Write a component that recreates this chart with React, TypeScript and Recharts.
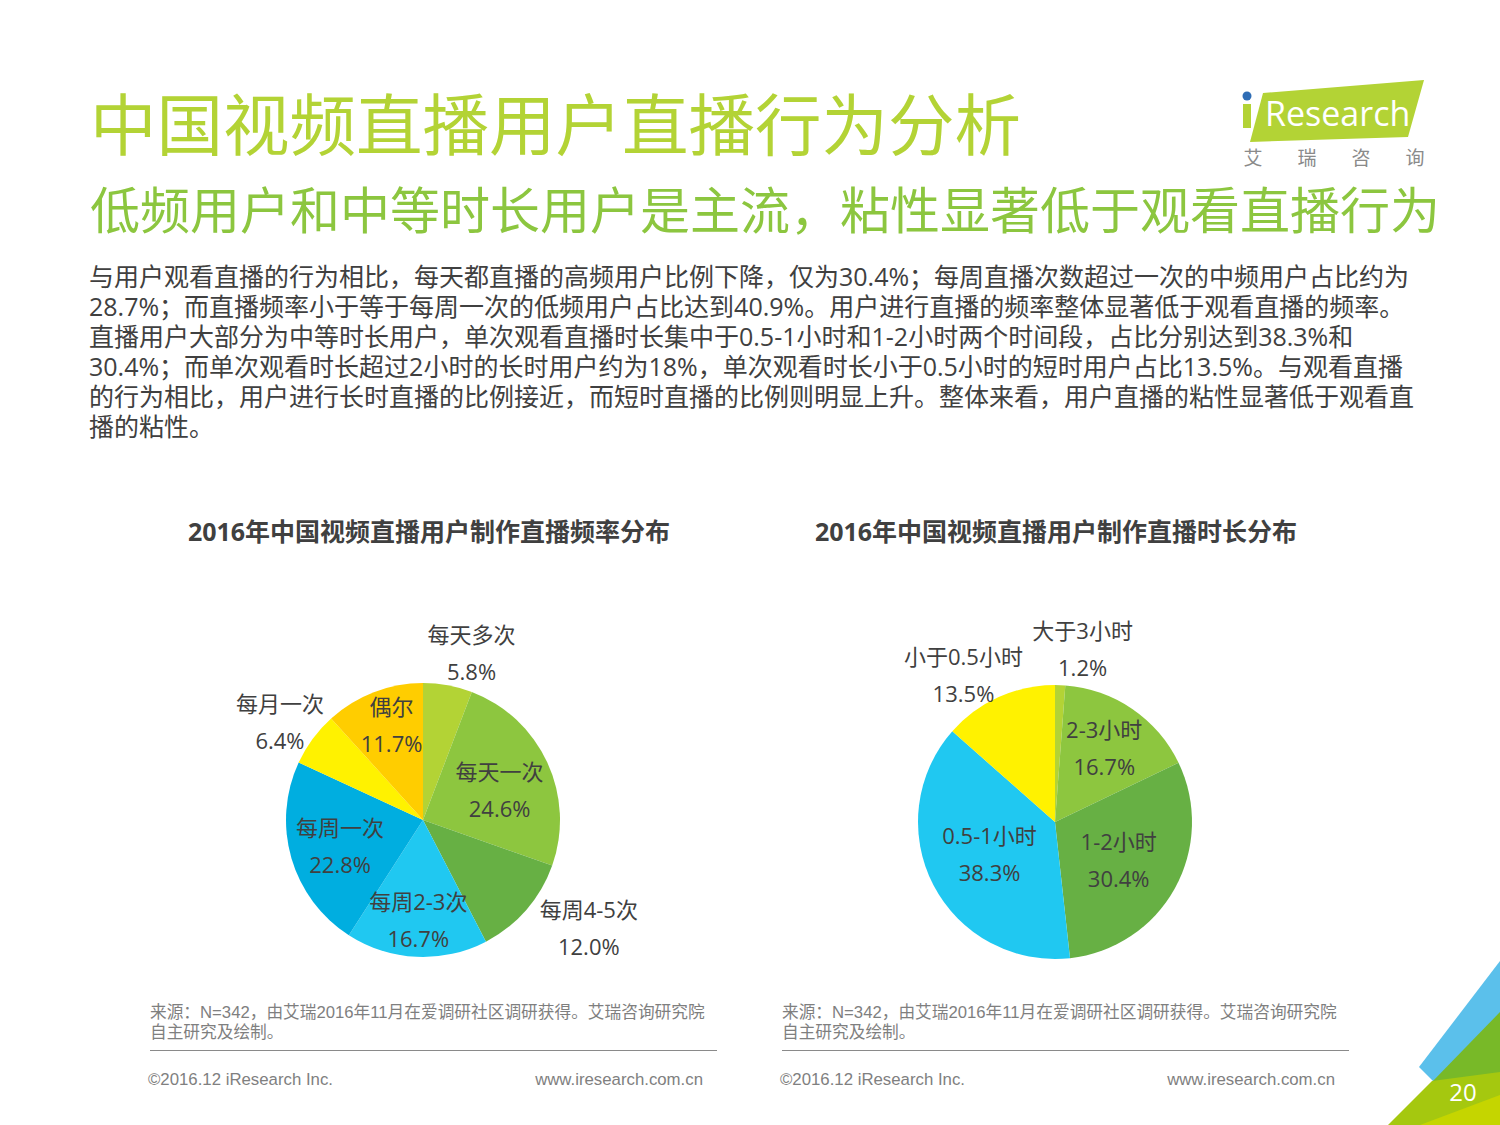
import React from 'react';
import { PieChart, Pie, Cell } from 'recharts';

// frequency chart data
const freqNames = ['每天多次', '每天一次', '每周4-5次', '每周2-3次', '每周一次', '每月一次', '偶尔'];
const freqValues = [5.8, 24.6, 12.0, 16.7, 22.8, 6.4, 11.7];

// duration chart data
const durNames = ['大于3小时', '2-3小时', '1-2小时', '0.5-1小时', '小于0.5小时'];
const durValues = [1.2, 16.7, 30.4, 38.3, 13.5];

const freqColors = ['#b3d335', '#8dc63f', '#67b044', '#20c8f1', '#00aee0', '#fff200', '#ffcd00'];
const durColors = ['#b3d335', '#8dc63f', '#67b044', '#20c8f1', '#fff200'];

// label layout: [radius factor, dx, dy]
const freqLabelLayout = [
  [1.27, 17, 4],
  [0.6, 2, 4],
  [1.44, 17, -22],
  [0.73, 0, 0],
  [0.63, 0, 1],
  [1.26, -4, 4],
  [0.74, 5, -1],
];
const durLabelLayout = [
  [1.28, 21, 2],
  [0.65, -1, -1],
  [0.54, -1, 2],
  [0.53, -1, -2],
  [1.27, -20, 11],
];

const paragraph = [
  '与用户观看直播的行为相比，每天都直播的高频用户比例下降，仅为30.4%；每周直播次数超过一次的中频用户占比约为',
  '28.7%；而直播频率小于等于每周一次的低频用户占比达到40.9%。用户进行直播的频率整体显著低于观看直播的频率。',
  '直播用户大部分为中等时长用户，单次观看直播时长集中于0.5-1小时和1-2小时两个时间段，占比分别达到38.3%和',
  '30.4%；而单次观看时长超过2小时的长时用户约为18%，单次观看时长小于0.5小时的短时用户占比13.5%。与观看直播',
  '的行为相比，用户进行长时直播的比例接近，而短时直播的比例则明显上升。整体来看，用户直播的粘性显著低于观看直',
  '播的粘性。',
];

const RAD = Math.PI / 180;
const font = "'Open Sans', 'Noto Sans CJK SC', sans-serif";

const makeLabel = (layout: number[][]) => (props: any) => {
  const { cx, cy, midAngle, outerRadius, index, name, value } = props;
  const [f, dx, dy] = layout[index];
  const r = outerRadius * f;
  const x = cx + r * Math.cos(-midAngle * RAD) + dx;
  const y = cy + r * Math.sin(-midAngle * RAD) + dy;
  return (
    <g>
      <text x={x} y={y - 18.5} textAnchor="middle" dominantBaseline="central" fill="#404040" fontSize={22} fontFamily={font}>
        {name}
      </text>
      <text x={x} y={y + 18.5} textAnchor="middle" dominantBaseline="central" fill="#404040" fontSize={22} fontFamily={font}>
        {value.toFixed(1)}%
      </text>
    </g>
  );
};

function Donut({ names, values, colors, layout }: { names: string[]; values: number[]; colors: string[]; layout: number[][] }) {
  const data = names.map((n, i) => ({ name: n, value: values[i] }));
  return (
    <PieChart width={600} height={460} margin={{ top: 0, right: 0, bottom: 0, left: 0 }}>
      <Pie
        data={data}
        dataKey="value"
        nameKey="name"
        cx={300}
        cy={230}
        outerRadius={137}
        startAngle={90}
        endAngle={-270}
        stroke="none"
        label={makeLabel(layout)}
        labelLine={false}
        isAnimationActive={false}
      >
        {data.map((d, i) => (
          <Cell key={d.name} fill={colors[i]} />
        ))}
      </Pie>
    </PieChart>
  );
}

const abs = (s: React.CSSProperties): React.CSSProperties => ({ position: 'absolute', whiteSpace: 'nowrap', ...s });

function Footer({ left }: { left: number }) {
  return (
    <>
      <div style={abs({ left, top: 1003, fontSize: 16.7, lineHeight: '20px', color: '#7f7f7f', fontFamily: "'Liberation Sans', 'Noto Sans CJK SC', sans-serif" })}>
        来源：N=342，由艾瑞2016年11月在爱调研社区调研获得。艾瑞咨询研究院
        <br />
        自主研究及绘制。
      </div>
      <div style={abs({ left, top: 1050, width: 567, height: 1, background: '#8a8a8a' })} />
      <div style={abs({ left: left - 2, top: 1070, fontSize: 16.8, lineHeight: '20px', color: '#808080', fontFamily: "'Liberation Sans', sans-serif" })}>
        ©2016.12 iResearch Inc.
      </div>
      <div style={abs({ left: left + 353, top: 1070, width: 200, textAlign: 'right', fontSize: 16.8, lineHeight: '20px', color: '#808080', fontFamily: "'Liberation Sans', sans-serif" })}>
        www.iresearch.com.cn
      </div>
    </>
  );
}

export default function App() {
  return (
    <div style={{ position: 'absolute', left: 0, top: 0, width: 1500, height: 1125, background: '#fff', overflow: 'hidden', fontFamily: font }}>
      <div style={abs({ left: 90, top: 88, fontSize: 66.5, lineHeight: '66px', color: '#b3d335', fontFamily: "'Noto Sans CJK SC', sans-serif", fontWeight: 400 })}>
        中国视频直播用户直播行为分析
      </div>
      <div style={abs({ left: 90, top: 182, fontSize: 50, lineHeight: '50px', color: '#8cc63f', fontFamily: "'Noto Sans CJK SC', sans-serif", fontWeight: 400 })}>
        低频用户和中等时长用户是主流，粘性显著低于观看直播行为
      </div>
      <div style={abs({ left: 89, top: 261, fontSize: 25, lineHeight: '30px', color: '#404040' })}>
        {paragraph.map((l) => (
          <div key={l}>{l}</div>
        ))}
      </div>

      {/* logo */}
      <svg style={{ position: 'absolute', left: 1230, top: 70 }} width={270} height={110}>
        <polygon points="33,23 194,10 178,67 20,72" fill="#b3d335" />
        <rect x={13} y={34} width={8} height={24} fill="#b3d335" />
        <circle cx={17} cy={26} r={4.5} fill="#2f6db5" />
        <text x={35} y={56} fill="#fff" fontSize={34} fontFamily="'Open Sans', sans-serif">Research</text>
        {['艾', '瑞', '咨', '询'].map((c, i) => (
          <text key={c} x={23 + i * 54} y={95} textAnchor="middle" fill="#8a8a8a" fontSize={19} fontFamily="'Noto Sans CJK SC', sans-serif">
            {c}
          </text>
        ))}
      </svg>

      <div style={abs({ left: 129, top: 514, width: 600, textAlign: 'center', fontSize: 25, lineHeight: '34px', fontWeight: 700, color: '#404040' })}>
        2016年中国视频直播用户制作直播频率分布
      </div>
      <div style={abs({ left: 756, top: 514, width: 600, textAlign: 'center', fontSize: 25, lineHeight: '34px', fontWeight: 700, color: '#404040' })}>
        2016年中国视频直播用户制作直播时长分布
      </div>

      <div style={{ position: 'absolute', left: 123, top: 590 }}>
        <Donut names={freqNames} values={freqValues} colors={freqColors} layout={freqLabelLayout} />
      </div>
      <div style={{ position: 'absolute', left: 755, top: 592 }}>
        <Donut names={durNames} values={durValues} colors={durColors} layout={durLabelLayout} />
      </div>

      <Footer left={150} />
      <Footer left={782} />

      {/* corner decoration */}
      <svg style={{ position: 'absolute', left: 1380, top: 950 }} width={120} height={175}>
        <polygon points="120,11 39,117 65,143 120,80" fill="#5bc0eb" />
        <polygon points="120,62 52,132 120,175" fill="#78b928" />
        <polygon points="8,175 52,131 120,122 120,175" fill="#a5c80f" />
        <polygon points="40,175 120,145 120,175" fill="#c5d500" />
        <text x={83} y={151} textAnchor="middle" fill="#fff" fontSize={24} fontFamily="'Open Sans', sans-serif">20</text>
      </svg>
    </div>
  );
}
